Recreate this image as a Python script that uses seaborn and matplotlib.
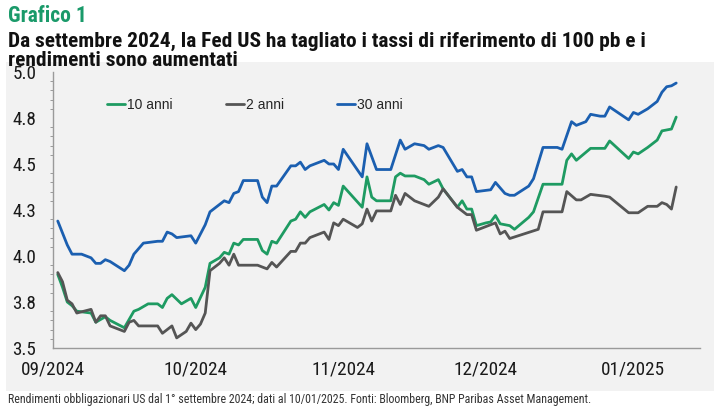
import pandas as pd
import matplotlib
matplotlib.use("Agg")
import matplotlib.pyplot as plt
import matplotlib.dates as mdates
from matplotlib.patches import Rectangle
from matplotlib.ticker import FixedLocator, MultipleLocator
import seaborn as sns

# rendimenti US (%)
date_10y = ["2024-09-02", "2024-09-03", "2024-09-04", "2024-09-05", "2024-09-06", "2024-09-09", "2024-09-10",
            "2024-09-12", "2024-09-13", "2024-09-16", "2024-09-18", "2024-09-19", "2024-09-21", "2024-09-23",
            "2024-09-24", "2024-09-25", "2024-09-26", "2024-09-28", "2024-09-30", "2024-10-01", "2024-10-03",
            "2024-10-04", "2024-10-06", "2024-10-07", "2024-10-08", "2024-10-09", "2024-10-10", "2024-10-11",
            "2024-10-14", "2024-10-15", "2024-10-16", "2024-10-17", "2024-10-18", "2024-10-21", "2024-10-22",
            "2024-10-23", "2024-10-24", "2024-10-25", "2024-10-28", "2024-10-29", "2024-10-30", "2024-10-31",
            "2024-11-01", "2024-11-05", "2024-11-06", "2024-11-07", "2024-11-08", "2024-11-11", "2024-11-12",
            "2024-11-13", "2024-11-14", "2024-11-16", "2024-11-18", "2024-11-19", "2024-11-21", "2024-11-22",
            "2024-11-25", "2024-11-26", "2024-11-27", "2024-11-28", "2024-11-29", "2024-12-01", "2024-12-02",
            "2024-12-03", "2024-12-04", "2024-12-06", "2024-12-07", "2024-12-10", "2024-12-11", "2024-12-13",
            "2024-12-17", "2024-12-18", "2024-12-19", "2024-12-20", "2024-12-23", "2024-12-26", "2024-12-27",
            "2024-12-31", "2025-01-01", "2025-01-02", "2025-01-04", "2025-01-06", "2025-01-07", "2025-01-09",
            "2025-01-10"]
rend_10y = [3.90, 3.83, 3.75, 3.73, 3.70, 3.69, 3.64, 3.67, 3.65, 3.61, 3.70, 3.71, 3.74, 3.74, 3.72, 3.77,
            3.79, 3.74, 3.77, 3.72, 3.83, 3.96, 3.99, 4.02, 4.01, 4.07, 4.06, 4.09, 4.09, 4.03, 4.01, 4.08,
            4.07, 4.19, 4.20, 4.24, 4.21, 4.24, 4.28, 4.25, 4.29, 4.275, 4.38, 4.265, 4.43, 4.32, 4.30, 4.30,
            4.43, 4.45, 4.435, 4.435, 4.415, 4.39, 4.415, 4.365, 4.265, 4.30, 4.255, 4.255, 4.165, 4.18, 4.185,
            4.22, 4.175, 4.165, 4.145, 4.21, 4.24, 4.39, 4.39, 4.52, 4.555, 4.52, 4.585, 4.585, 4.625, 4.53,
            4.565, 4.555, 4.59, 4.63, 4.68, 4.69, 4.755]

date_2y = ["2024-09-02", "2024-09-03", "2024-09-04", "2024-09-05", "2024-09-06", "2024-09-09", "2024-09-10",
           "2024-09-11", "2024-09-12", "2024-09-13", "2024-09-16", "2024-09-17", "2024-09-18", "2024-09-19",
           "2024-09-23", "2024-09-24", "2024-09-25", "2024-09-26", "2024-09-27", "2024-09-29", "2024-09-30",
           "2024-10-01", "2024-10-02", "2024-10-03", "2024-10-04", "2024-10-06", "2024-10-07", "2024-10-08",
           "2024-10-09", "2024-10-10", "2024-10-14", "2024-10-16", "2024-10-17", "2024-10-18", "2024-10-21",
           "2024-10-22", "2024-10-23", "2024-10-24", "2024-10-25", "2024-10-28", "2024-10-29", "2024-10-30",
           "2024-10-31", "2024-11-01", "2024-11-04", "2024-11-05", "2024-11-06", "2024-11-07", "2024-11-08",
           "2024-11-11", "2024-11-12", "2024-11-13", "2024-11-14", "2024-11-16", "2024-11-19", "2024-11-21",
           "2024-11-22", "2024-11-25", "2024-11-27", "2024-11-28", "2024-11-29", "2024-12-01", "2024-12-03",
           "2024-12-04", "2024-12-05", "2024-12-06", "2024-12-09", "2024-12-12", "2024-12-13", "2024-12-17",
           "2024-12-18", "2024-12-20", "2024-12-21", "2024-12-23", "2024-12-26", "2024-12-27", "2024-12-31",
           "2025-01-02", "2025-01-04", "2025-01-06", "2025-01-07", "2025-01-08", "2025-01-09", "2025-01-10"]
rend_2y = [3.91, 3.86, 3.76, 3.74, 3.69, 3.71, 3.64, 3.675, 3.675, 3.62, 3.59, 3.64, 3.65, 3.62, 3.62, 3.58,
           3.60, 3.62, 3.555, 3.59, 3.635, 3.60, 3.63, 3.69, 3.92, 3.96, 3.99, 3.95, 4.01, 3.95, 3.95, 3.93,
           3.965, 3.94, 4.025, 4.025, 4.07, 4.07, 4.10, 4.13, 4.09, 4.18, 4.165, 4.20, 4.155, 4.175, 4.255,
           4.19, 4.245, 4.245, 4.33, 4.28, 4.34, 4.30, 4.27, 4.32, 4.365, 4.265, 4.225, 4.225, 4.14, 4.16,
           4.18, 4.12, 4.135, 4.095, 4.12, 4.145, 4.24, 4.24, 4.35, 4.305, 4.305, 4.335, 4.325, 4.32, 4.235,
           4.235, 4.27, 4.27, 4.29, 4.28, 4.255, 4.375]

date_30y = ["2024-09-02", "2024-09-04", "2024-09-05", "2024-09-07", "2024-09-09", "2024-09-10", "2024-09-11",
            "2024-09-12", "2024-09-13", "2024-09-16", "2024-09-17", "2024-09-18", "2024-09-20", "2024-09-23",
            "2024-09-24", "2024-09-25", "2024-09-26", "2024-09-27", "2024-09-30", "2024-10-01", "2024-10-03",
            "2024-10-04", "2024-10-06", "2024-10-07", "2024-10-08", "2024-10-09", "2024-10-10", "2024-10-11",
            "2024-10-14", "2024-10-15", "2024-10-16", "2024-10-17", "2024-10-18", "2024-10-21", "2024-10-22",
            "2024-10-23", "2024-10-24", "2024-10-25", "2024-10-28", "2024-10-29", "2024-10-30", "2024-10-31",
            "2024-11-01", "2024-11-05", "2024-11-06", "2024-11-08", "2024-11-11", "2024-11-13", "2024-11-14",
            "2024-11-16", "2024-11-18", "2024-11-19", "2024-11-21", "2024-11-22", "2024-11-25", "2024-11-26",
            "2024-11-27", "2024-11-28", "2024-11-29", "2024-12-02", "2024-12-03", "2024-12-05", "2024-12-06",
            "2024-12-07", "2024-12-10", "2024-12-11", "2024-12-13", "2024-12-16", "2024-12-17", "2024-12-19",
            "2024-12-20", "2024-12-22", "2024-12-23", "2024-12-25", "2024-12-26", "2024-12-27", "2024-12-31",
            "2025-01-01", "2025-01-02", "2025-01-04", "2025-01-06", "2025-01-07", "2025-01-08", "2025-01-09",
            "2025-01-10"]
rend_30y = [4.19, 4.06, 4.01, 4.01, 3.99, 3.96, 3.96, 3.98, 3.97, 3.92, 3.95, 4.01, 4.07, 4.08, 4.08, 4.13,
            4.12, 4.10, 4.11, 4.07, 4.17, 4.24, 4.28, 4.30, 4.29, 4.34, 4.35, 4.41, 4.41, 4.32, 4.29, 4.38,
            4.38, 4.49, 4.49, 4.51, 4.47, 4.49, 4.52, 4.50, 4.50, 4.47, 4.58, 4.43, 4.61, 4.47, 4.47, 4.63,
            4.58, 4.61, 4.60, 4.58, 4.60, 4.59, 4.46, 4.47, 4.43, 4.43, 4.35, 4.36, 4.40, 4.34, 4.33, 4.33,
            4.38, 4.42, 4.59, 4.59, 4.58, 4.73, 4.71, 4.73, 4.77, 4.76, 4.76, 4.81, 4.74, 4.78, 4.77, 4.80,
            4.84, 4.89, 4.92, 4.925, 4.94]

serie = ["10 anni", "2 anni", "30 anni"]
colori = ["#1e9b62", "#555555", "#1b5fb0"]
y_ticks = [3.5, 3.75, 4.0, 4.25, 4.5, 4.75, 5.0]
y_labels = ["3.5", "3.8", "4.0", "4.3", "4.5", "4.8", "5.0"]

titolo = "Grafico 1"
sottotitolo = ["Da settembre 2024, la Fed US ha tagliato i tassi di riferimento di 100 pb e i",
               "rendimenti sono aumentati"]
nota = ("Rendimenti obbligazionari US dal 1° settembre 2024; dati al 10/01/2025. "
        "Fonti: Bloomberg, BNP Paribas Asset Management.")

frames = []
for nome, d, v in zip(serie, [date_10y, date_2y, date_30y], [rend_10y, rend_2y, rend_30y]):
    frames.append(pd.DataFrame({"data": pd.to_datetime(d), "rendimento": v, "scadenza": nome}))
df = pd.concat(frames, ignore_index=True)

sns.set_style("white")
plt.rcParams["font.family"] = ["Roboto Condensed", "Roboto", "DejaVu Sans"]

fig = plt.figure(figsize=(7.25, 4.17), dpi=100)
W, H = 725, 417
fig.patches.append(Rectangle((6 / W, 1 - 391 / H), 708 / W, 329 / H, transform=fig.transFigure,
                             facecolor="#f2f2f2", edgecolor="none", zorder=-1))

ax = fig.add_axes([53 / W, 1 - 348 / H, 647 / W, 276 / H])
ax.set_facecolor("none")

sns.lineplot(data=df, x="data", y="rendimento", hue="scadenza", hue_order=serie,
             palette=colori, linewidth=2.0, ax=ax)

ax.set_xlim(pd.Timestamp("2024-09-01"), pd.Timestamp("2025-01-15"))
ax.set_ylim(3.5, 5.0)
ax.xaxis.set_major_locator(mdates.MonthLocator())
ax.xaxis.set_major_formatter(mdates.DateFormatter("%m/%Y"))
ax.yaxis.set_major_locator(FixedLocator(y_ticks))
ax.set_yticklabels(y_labels)
ax.yaxis.set_minor_locator(MultipleLocator(0.05))
ax.set_xlabel("")
ax.set_ylabel("")

for s in ["top", "right"]:
    ax.spines[s].set_visible(False)
for s in ["left", "bottom"]:
    ax.spines[s].set_color("#9a9a9a")
    ax.spines[s].set_linewidth(1.0)
ax.tick_params(axis="both", which="major", length=4, width=0.8, color="#9a9a9a",
               labelsize=13.8, labelcolor="#1a1a1a")
ax.tick_params(axis="y", which="minor", length=2.5, width=0.7, color="#9a9a9a", left=True)
ax.tick_params(axis="x", pad=5)
ax.tick_params(axis="y", pad=8)

handles, labels = ax.get_legend_handles_labels()
ax.legend(handles, labels, loc="center", bbox_to_anchor=(0.312, 0.88), ncol=3, frameon=False,
          handlelength=1.3, handletextpad=0.15, columnspacing=3.8,
          prop={"family": ["Liberation Sans", "DejaVu Sans"], "size": 10})

fig.text(8 / W, 1 - 22 / H, titolo, fontsize=15.5, fontweight="bold", color="#1a9a6a", va="baseline")
fig.text(8 / W, 1 - 47 / H, sottotitolo[0], fontsize=15.4, fontweight="bold", color="#111111", va="baseline")
fig.text(8 / W, 1 - 66 / H, sottotitolo[1], fontsize=15.4, fontweight="bold", color="#111111", va="baseline")
fig.text(8 / W, 1 - 403 / H, nota, fontsize=8.6, color="#333333", va="baseline")

fig.savefig("out.png", dpi=100)
